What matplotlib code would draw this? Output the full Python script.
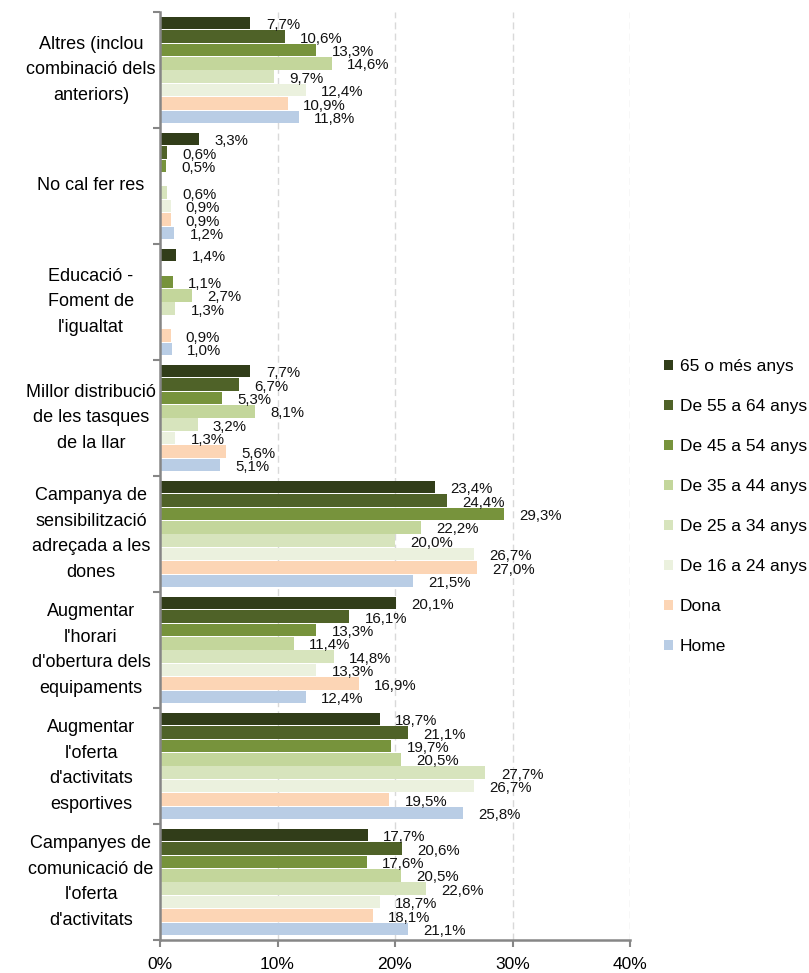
import numpy as np
import matplotlib.pyplot as plt
from matplotlib.transforms import blended_transform_factory

plt.rcParams['font.family'] = ['Liberation Sans', 'DejaVu Sans']

categories = [
    "Altres (inclou\ncombinació dels\nanteriors)",
    "No cal fer res",
    "Educació -\nFoment de\nl'igualtat",
    "Millor distribució\nde les tasques\nde la llar",
    "Campanya de\nsensibilització\nadreçada a les\ndones",
    "Augmentar\nl'horari\nd'obertura dels\nequipaments",
    "Augmentar\nl'oferta\nd'activitats\nesportives",
    "Campanyes de\ncomunicació de\nl'oferta\nd'activitats",
]

series_names = ["65 o més anys", "De 55 a 64 anys", "De 45 a 54 anys", "De 35 a 44 anys",
                "De 25 a 34 anys", "De 16 a 24 anys", "Dona", "Home"]
series_colors = ["#313d19", "#4f6228", "#77933c", "#c3d69b",
                 "#d7e4bd", "#ebf1de", "#fcd5b5", "#b9cde5"]

# one list per category, in series order (None = no answer, no label)
altres = [7.7, 10.6, 13.3, 14.6, 9.7, 12.4, 10.9, 11.8]
no_cal = [3.3, 0.6, 0.5, None, 0.6, 0.9, 0.9, 1.2]
educacio = [1.4, None, 1.1, 2.7, 1.3, None, 0.9, 1.0]
millor_distribucio = [7.7, 6.7, 5.3, 8.1, 3.2, 1.3, 5.6, 5.1]
campanya_dones = [23.4, 24.4, 29.3, 22.2, 20.0, 26.7, 27.0, 21.5]
horari = [20.1, 16.1, 13.3, 11.4, 14.8, 13.3, 16.9, 12.4]
oferta = [18.7, 21.1, 19.7, 20.5, 27.7, 26.7, 19.5, 25.8]
comunicacio = [17.7, 20.6, 17.6, 20.5, 22.6, 18.7, 18.1, 21.1]

values = [altres, no_cal, educacio, millor_distribucio,
          campanya_dones, horari, oferta, comunicacio]

fig = plt.figure(figsize=(8.09, 9.73), dpi=100)
ax = fig.add_axes([160 / 809, 1 - 940 / 973, 470 / 809, 928 / 973])

step = 0.1155
bar_h = 0.108
for j, (name, color) in enumerate(zip(series_names, series_colors)):
    ys = np.arange(len(categories)) + 0.5 + (j - 3.5) * step
    vals = [row[j] if row[j] is not None else 0 for row in values]
    ax.barh(ys, vals, height=bar_h, color=color, label=name, zorder=2)
    for y, row in zip(ys, values):
        v = row[j]
        if v is None:
            continue
        ax.annotate(f"{v:.1f}%".replace(".", ","), (v, y), xytext=(11, -1.5),
                    textcoords="offset points", ha="left", va="center",
                    fontsize=10.8, color="#111111", zorder=3)

ax.set_xlim(0, 40)
ax.set_ylim(len(categories), 0)
ax.set_xticks([0, 10, 20, 30, 40])
ax.set_xticklabels(["0%", "10%", "20%", "30%", "40%"], fontsize=12.5)
ax.set_yticks(np.arange(len(categories) + 1))
ax.set_yticklabels([])
ax.xaxis.grid(True, linestyle=(0, (5, 3)), color="#d9d9d9", linewidth=1, zorder=0)
ax.set_axisbelow(True)

for side in ["top", "right"]:
    ax.spines[side].set_visible(False)
for side in ["left", "bottom"]:
    ax.spines[side].set_color("#868686")
    ax.spines[side].set_linewidth(1.8)
ax.tick_params(axis="both", color="#868686", width=1.5, length=5)
ax.tick_params(axis="x", pad=7)

# category names, centred in the left margin
label_tr = blended_transform_factory(fig.transFigure, ax.transData)
for i, cat in enumerate(categories):
    ax.text(91 / 809, i + 0.5, cat, transform=label_tr, ha="center", va="center",
            multialignment="center", fontsize=13, linespacing=1.68)

fig.legend(loc="upper left", bbox_to_anchor=(657 / 809, 1 - 352 / 973),
           frameon=False, fontsize=12.5, handlelength=0.5, handleheight=0.5,
           handletextpad=0.4, labelspacing=1.44, borderaxespad=0)

fig.savefig("out.png", dpi=100)
